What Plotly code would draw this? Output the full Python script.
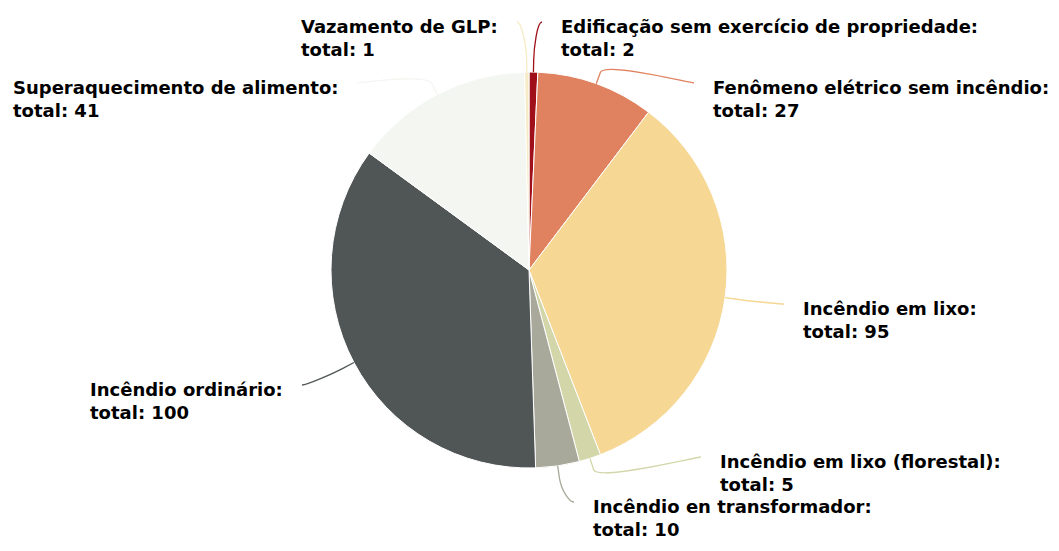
import math
import plotly.graph_objects as go

# ---- data ----
categories = [
    "Edificação sem exercício de propriedade",
    "Fenômeno elétrico sem incêndio",
    "Incêndio em lixo",
    "Incêndio em lixo (florestal)",
    "Incêndio en transformador",
    "Incêndio ordinário",
    "Superaquecimento de alimento",
    "Vazamento de GLP",
]
totals = [2, 27, 95, 5, 10, 100, 41, 1]
colors = ["#a0101a", "#e0825f", "#f6d794", "#d3d6a8", "#a9a99b", "#505556", "#f3f6f1", "#f5ebc6"]

# ---- layout (screen pixel geometry; page body has an 8px margin) ----
OFF = 8
SW, SH = 1059, 551
W, H = SW - 2 * OFF, SH - 2 * OFF
CX, CY, R = 529, 270, 198
# label text anchor: (x of text edge, y of block middle, side)
label_pos = [
    (559, 38, "right"),
    (711, 99, "right"),
    (801, 320, "right"),
    (718, 473, "right"),
    (591, 518, "right"),
    (285, 401, "left"),
    (340, 99, "left"),
    (500, 38, "left"),
]
BREAK = 12
PAD = 17

fig = go.Figure()
fig.add_trace(go.Pie(
    labels=categories, values=totals, sort=False, direction="clockwise", rotation=0,
    marker=dict(colors=colors, line=dict(color="white", width=1)),
    textinfo="none", hoverinfo="label+value", showlegend=False,
    domain=dict(x=[(CX - R - OFF) / W, (CX + R - OFF) / W],
                y=[(SH - OFF - CY - R) / H, (SH - OFF - CY + R) / H]),
))
# invisible scatter to establish pixel-like axes
fig.add_trace(go.Scatter(x=[OFF, OFF + W], y=[OFF, OFF + H], mode="markers",
                         marker=dict(opacity=0), hoverinfo="skip", showlegend=False))

total = sum(totals)
cum = 0
shapes = []
annotations = []
for name, v, col, (tx, ty, side) in zip(categories, totals, colors, label_pos):
    mid = (cum + v / 2) / total * 2 * math.pi
    cum += v
    sx, sy = CX + R * math.sin(mid), CY - R * math.cos(mid)
    bx, by = CX + (R + BREAK) * math.sin(mid), CY - (R + BREAK) * math.cos(mid)
    if side == "right":
        lx = tx - PAD
        c1x = lx - 5
    else:
        lx = tx + PAD
        c1x = lx + 5
    ly = ty - 16
    path = (f"M {lx:.2f},{ly:.2f} C {c1x:.2f},{ly:.2f} {2*bx - sx:.2f},{2*by - sy:.2f} "
            f"{bx:.2f},{by:.2f} L {sx:.2f},{sy:.2f}")
    shapes.append(dict(type="path", path=path, xref="x", yref="y",
                       line=dict(color=col, width=1.3), layer="above"))
    annotations.append(dict(
        x=tx, y=ty, xref="x", yref="y", showarrow=False,
        xanchor="left" if side == "right" else "right", yanchor="middle", align="left",
        text=f"{name}:<br>total: {v}",
        font=dict(family="DejaVu Sans", size=18, color="#000000", weight="bold"),
    ))

fig.update_layout(
    width=W, height=H, margin=dict(l=0, r=0, t=0, b=0),
    paper_bgcolor="white", plot_bgcolor="white",
    xaxis=dict(range=[OFF, OFF + W], visible=False, fixedrange=True),
    yaxis=dict(range=[OFF + H, OFF], visible=False, fixedrange=True),
    shapes=shapes, annotations=annotations,
)
fig.write_html("out.html")
